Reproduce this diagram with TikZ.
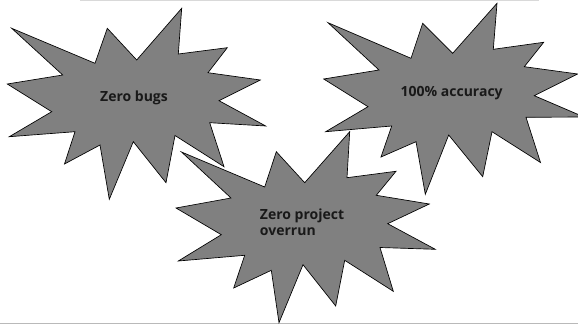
\documentclass[tikz,border=0pt]{standalone}
\usepackage{fontspec}
\setmainfont{Open Sans}
\usepackage{tikz}
\tikzset{>=stealth}
\tikzset{
  burst/.style={fill=gray, draw=black, line width=0.5pt, line join=miter},
  bursttext/.style={font=\fontsize{10.5}{12}\selectfont\bfseries, text=black!90, align=left, inner sep=0pt},
  rule/.style={line width=0.75pt}
}

\begin{document}
\begin{tikzpicture}[x=0.75pt,y=-0.75pt]
    \useasboundingbox (0,0) rectangle (578,324);
    \draw[rule,gray!30] (80,0.5)--(539,0.5);
    \draw[rule,gray!55] (0,323.5)--(578,323.5);
    \filldraw[burst](11.7,28.3)--(95,63.3)--(107.3,28.3)--(136.7,60)--(181.7,8.3)--(178.3,54)--(227.3,47.7)--(208,72.7)--(260.3,80)--(219,100.7)--(265.7,126)--(209.7,122.7)--(224,166.7)--(175,135.5)--(166,182.7)--(133.3,141.7)--(109.3,199.3)--(100,145)--(64.5,164)--(75,131.7)--(9.3,136.7)--(51.7,111.7)--(7.3,84)--(62.7,75)--cycle;
    \filldraw[burst](328,22.7)--(411,58.3)--(422.7,23.3)--(452.7,53.3)--(497,3.3)--(493.3,49.3)--(543.7,42.3)--(524.3,66.7)--(577.7,74)--(534.3,95.7)--(584,117)--(526,117.3)--(540.5,162.5)--(492,131.7)--(482.7,176.7)--(448.7,135)--(425.3,194.3)--(416,141.7)--(381,157)--(391.7,126)--(325.7,131.7)--(368,106.7)--(323.7,79)--(379,70)--cycle;
    \filldraw[burst](181.5,152)--(264.7,187)--(276.3,151.7)--(304.7,182.7)--(349.7,131.7)--(347,177.7)--(396,171.3)--(376.3,195.3)--(429.3,204)--(387.7,223.7)--(435.3,249.3)--(380,247.5)--(393.3,291.3)--(344.7,260.3)--(335.7,306)--(303,264.7)--(279,322.7)--(271.3,270.3)--(233.7,288)--(244.7,255.3)--(178.3,261)--(221.3,234.7)--(176,208)--(231,198)--cycle;
    \node[bursttext] (bugs) at (134,98) {Zero bugs};
    \node[bursttext] (accuracy) at (451.7,93) {100\% accuracy};
    \node[bursttext,anchor=west] (overrun) at (259.7,222) {Zero project\\overrun};
\end{tikzpicture}
\end{document}
